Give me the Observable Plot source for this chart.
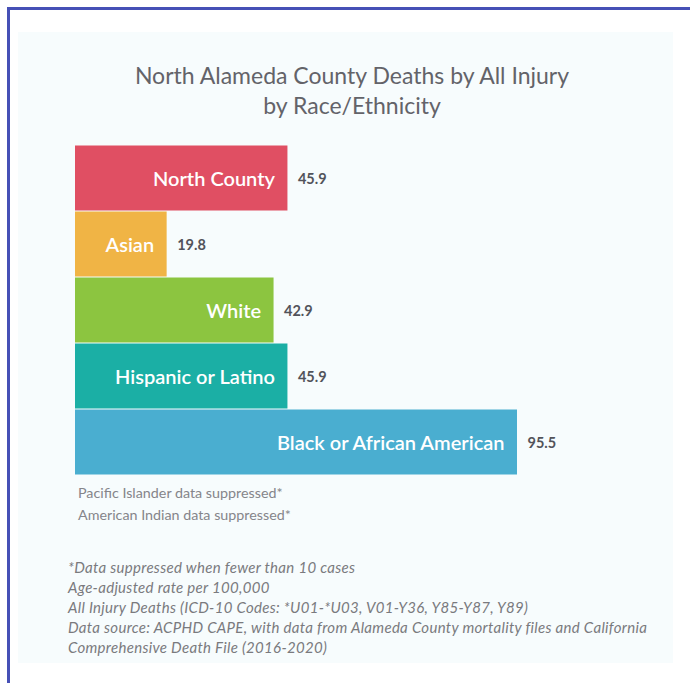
<!DOCTYPE html>
<html>
<head>
<meta charset="utf-8">
<script src="https://cdn.jsdelivr.net/npm/d3@7"></script>
<script src="https://cdn.jsdelivr.net/npm/@observablehq/plot@0.6"></script>
<style>
  html, body { margin: 0; padding: 0; background: #ffffff; }
  body { width: 690px; height: 683px; position: relative; overflow: hidden; font-family: Lato, "Open Sans", sans-serif; }
  #frame { position: absolute; left: 7px; top: 7px; width: 700px; height: 700px; border-left: 3px solid #4650b6; border-top: 3px solid #4650b6; }
  #panel { position: absolute; left: 18px; top: 32px; width: 655px; height: 631px; background: #f7fcfd; }
  #title { position: absolute; left: 0; top: 60px; width: 704px; text-align: center; font-size: 23px; line-height: 30px; color: #636369; }
  #chart { position: absolute; left: 0; top: 145px; }
  #supp { position: absolute; left: 78px; top: 482px; font-size: 14.3px; line-height: 22px; color: #85858a; }
  #notes { position: absolute; left: 68px; top: 557px; font-size: 15px; line-height: 20px; color: #7a7a7e; font-style: italic; letter-spacing: 0.3px; }
</style>
</head>
<body>
<div id="frame"></div>
<div id="panel"></div>
<div id="title"></div>
<div id="chart"></div>
<div id="supp"></div>
<div id="notes"></div>
<script>
const titleLines = ["North Alameda County Deaths by All Injury", "by Race/Ethnicity"];
const categories = ["North County", "Asian", "White", "Hispanic or Latino", "Black or African American"];
const values = [45.9, 19.8, 42.9, 45.9, 95.5];
const valueLabels = ["45.9", "19.8", "42.9", "45.9", "95.5"];
const palette = ["#e04f63", "#f0b445", "#8cc540", "#1bafa5", "#4aaed0"];
const suppressedNotes = ["Pacific Islander data suppressed*", "American Indian data suppressed*"];
const footnotes = [
  "*Data suppressed when fewer than 10 cases",
  "Age-adjusted rate per 100,000",
  "All Injury Deaths (ICD-10 Codes: *U01-*U03, V01-Y36, Y85-Y87, Y89)",
  "Data source: ACPHD CAPE, with data from Alameda County mortality files and California",
  "Comprehensive Death File (2016-2020)"
];

document.getElementById("title").innerHTML = titleLines.map(t => `<div>${t}</div>`).join("");
document.getElementById("supp").innerHTML = suppressedNotes.map(t => `<div>${t}</div>`).join("");
document.getElementById("notes").innerHTML = footnotes.map(t => `<div>${t}</div>`).join("");

const data = categories.map((c, i) => ({category: c, value: values[i], label: valueLabels[i]}));

const chart = Plot.plot({
  width: 690,
  height: 330,
  marginLeft: 75,
  marginRight: 173,
  marginTop: 0,
  marginBottom: 0,
  style: {background: "transparent", fontFamily: "Lato, 'Open Sans', sans-serif", overflow: "visible"},
  x: {domain: [0, d3.max(values)], axis: null},
  y: {domain: categories, axis: null, padding: 0},
  color: {domain: categories, range: palette},
  marks: [
    Plot.barX(data, {x: "value", y: "category", fill: "category", insetTop: 0.5, insetBottom: 0.5}),
    Plot.text(data, {x: "value", y: "category", text: "category", textAnchor: "end", dx: -13, dy: 1, fill: "#ffffff", fontSize: 20, fontWeight: 600}),
    Plot.text(data, {x: "value", y: "category", text: "label", textAnchor: "start", dx: 10, dy: 1, fill: "#52535a", fontSize: 14.5, fontWeight: 700})
  ]
});
document.getElementById("chart").appendChild(chart);
</script>
</body>
</html>
